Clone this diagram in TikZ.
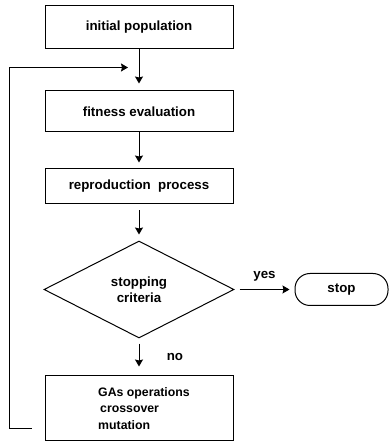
\documentclass[tikz,border=0pt]{standalone}
\usepackage{fontspec}
\setmainfont{Liberation Sans}
\usetikzlibrary{positioning,shapes.geometric,arrows.meta}

\begin{document}
\begin{tikzpicture}[
    x=1pt, y=1pt,
    node distance=36pt and 60pt,
    every node/.style={font=\bfseries\fontsize{13.3}{16.5}\selectfont},
    block/.style={draw, rectangle, line width=1pt, minimum width=188pt, align=center},
    decision/.style={draw, diamond, line width=1pt, minimum width=190pt, minimum height=97pt, inner sep=0pt, align=center},
    terminal/.style={draw, rectangle, rounded corners=15pt, line width=1pt, minimum width=93pt, minimum height=32pt},
    arrow/.style={line width=1pt,->,>={Stealth[length=7pt,width=8pt,inset=1pt]}}
]
  \useasboundingbox (0,0) rectangle (389,445);

  % Nodes main column
  \node (init) [block, minimum height=43pt] at (139,417.5) {initial population};
  \node (fit) [block, minimum height=41pt, below=41pt of init] {fitness evaluation};
  \node (repro) [block, minimum height=35pt, below=36pt of fit] {reproduction\ \ process};
  \node (crit) [decision, below=36pt of repro] {stopping\\criteria};
  \node (ops) [block, minimum height=65pt, below=37pt of crit, align=left,
    font=\bfseries\fontsize{12.3}{16.5}\selectfont] {\hspace*{10pt}GAs operations\\\hspace*{12pt}crossover\\\hspace*{10pt}mutation};

  % Node on the right
  \node (stop) [terminal, right=60pt of crit] {stop};

  % Loop corner
  \coordinate (back) at ([xshift=-13pt,yshift=-20.5pt]ops.west);

  % Arrows
  \draw [arrow, shorten >=7pt] (init) -- (fit);
  \draw [arrow, shorten >=6pt] (fit) -- (repro);
  \draw [arrow, shorten <=6pt, shorten >=6pt] (repro) -- (crit);
  \draw [arrow, shorten <=5pt, shorten >=9pt] (crit) -- node[right=24pt] {no} (ops);
  \draw [arrow, shorten <=5pt, shorten >=5pt] (crit) -- node[above=4pt] {yes} (stop);
  \draw [arrow] (back) -- ++(-22pt,0) |- ([xshift=-11pt,yshift=-18pt]init.south);
\end{tikzpicture}
\end{document}
